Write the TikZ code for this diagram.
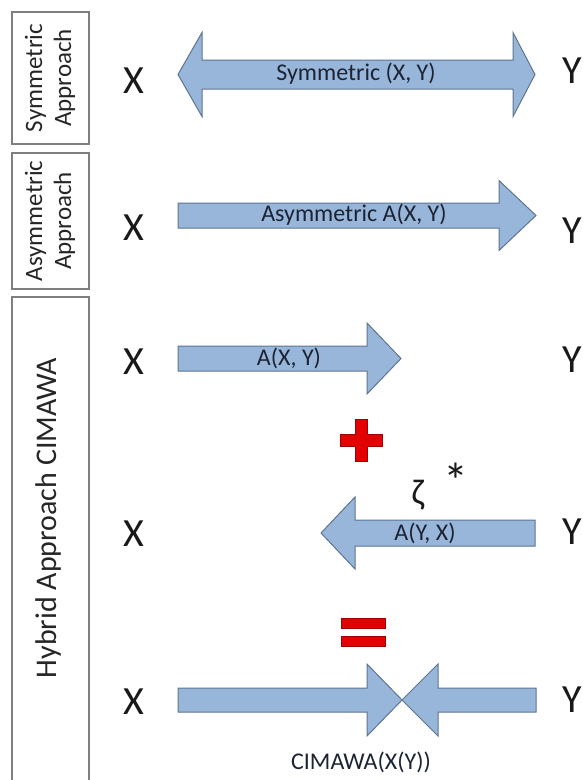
\documentclass[tikz,border=0pt]{standalone}
\usepackage{fontspec}
\setmainfont{Carlito}
\definecolor{arrowfill}{HTML}{98B6D9}
\definecolor{arrowedge}{HTML}{5E7491}
\definecolor{boxedge}{HTML}{7F7F7F}
\definecolor{labeltext}{HTML}{1C2333}
\definecolor{markred}{HTML}{E30000}
\definecolor{markedge}{HTML}{A00000}
\begin{document}
\begin{tikzpicture}[x=1pt,y=-1pt,
  blockarrow/.style={fill=arrowfill, draw=arrowedge, line width=1pt, line join=miter},
  sidebox/.style={draw=boxedge, line width=1.4pt},
  sidetext/.style={font=\fontsize{25}{29}\selectfont, align=center, rotate=90, text=black!85, inner sep=0pt},
  endlabel/.style={font=\fontsize{40}{40}\selectfont, text=black!90, inner sep=0pt},
  arrowlabel/.style={font=\fontsize{24}{24}\selectfont, text=labeltext, inner sep=0pt},
  greeklabel/.style={font=\fontsize{36}{36}\selectfont, text=black!90, inner sep=0pt},
  redmark/.style={fill=markred, draw=markedge, line width=0.8pt}]
\useasboundingbox (0,0) rectangle (583,780);

% side boxes naming each approach
\draw[sidebox] (12,12) rectangle (89,144);
\node[sidetext] (symtxt) at (50,78) {Symmetric\\Approach};
\draw[sidebox] (12,153) rectangle (89,289);
\node[sidetext] (asymtxt) at (50,221) {Asymmetric\\Approach};
\draw[sidebox] (12,780) -- (12,297) -- (89,297) -- (89,780);
\node[sidetext, font=\fontsize{30}{34}\selectfont] (hybtxt) at (49,518) {Hybrid Approach CIMAWA};

% end labels
\foreach \n/\yx/\yy in {1/81/71, 2/228/231, 3/362/360, 4/534/532, 5/702/700}{
  \node[endlabel] (x\n) at (134,\yx) {X};
  \node[endlabel] (y\n) at (572,\yy) {Y};
}

% symmetric: double-headed block arrow
\draw[blockarrow] (178,74.5) -- (202,32.5) -- (202,60) -- (513,60) -- (513,32.5)
  -- (535,74.5) -- (513,116.5) -- (513,89) -- (202,89) -- (202,116.5) -- cycle;
\node[arrowlabel] (symlbl) at (356,74) {Symmetric (X, Y)};

% asymmetric: single block arrow
\draw[blockarrow] (178,203) -- (499,203) -- (499,180.5) -- (536,215.5)
  -- (499,250.5) -- (499,228) -- (178,228) -- cycle;
\node[arrowlabel] (asymlbl) at (354,215) {Asymmetric A(X, Y)};

% hybrid: forward part
\draw[blockarrow] (178,346) -- (367,346) -- (367,323) -- (401,358.5)
  -- (367,394) -- (367,371) -- (178,371) -- cycle;
\node[arrowlabel] (fwdlbl) at (289,358) {A(X, Y)};

% plus sign
\draw[redmark] (355,419) -- (367,419) -- (367,434) -- (382,434) -- (382,446)
  -- (367,446) -- (367,461) -- (355,461) -- (355,446) -- (340,446)
  -- (340,434) -- (355,434) -- cycle;

% hybrid: backward part
\node[greeklabel] (zeta) at (418,495) {ζ};
\node[greeklabel, font=\fontsize{50}{50}\selectfont] (star) at (456,481) {*};
\draw[blockarrow] (535,520) -- (355,520) -- (355,497) -- (321,533)
  -- (355,569) -- (355,546) -- (535,546) -- cycle;
\node[arrowlabel] (bwdlbl) at (425,533) {A(Y, X)};

% equals sign
\draw[redmark] (341,618) rectangle (385,628);
\draw[redmark] (341,636) rectangle (385,646);

% combined result: two arrows meeting tip to tip
\draw[blockarrow] (178,688) -- (367,688) -- (367,664) -- (402,700)
  -- (367,736) -- (367,712) -- (178,712) -- cycle;
\draw[blockarrow] (536,688) -- (438,688) -- (438,664) -- (402,700)
  -- (438,736) -- (438,712) -- (536,712) -- cycle;
\node[arrowlabel] (cimlbl) at (361,762) {CIMAWA(X(Y))};
\end{tikzpicture}
\end{document}
